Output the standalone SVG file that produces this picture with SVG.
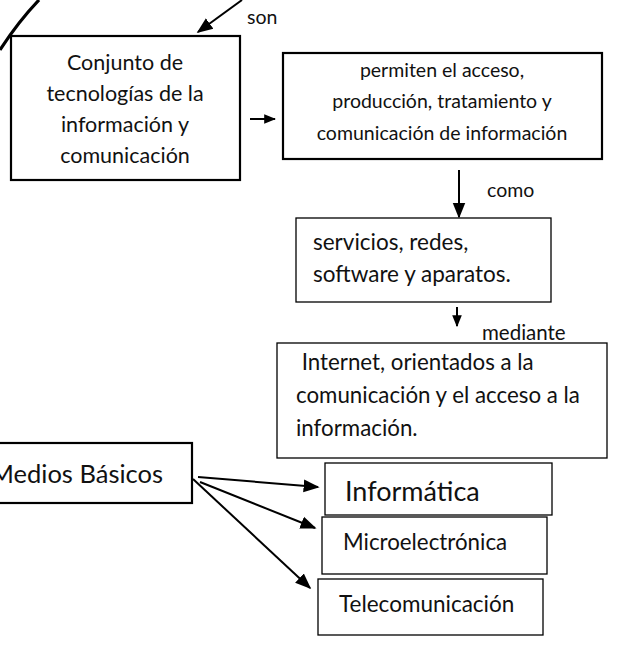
<svg xmlns="http://www.w3.org/2000/svg" width="619" height="646" viewBox="0 0 619 646">
<defs>
<marker id="ah" viewBox="0 0 10 10" refX="9" refY="5" markerWidth="8" markerHeight="8" orient="auto" markerUnits="strokeWidth">
<path d="M0,1 L10,5 L0,9 z" fill="#000"/>
</marker>
<marker id="ahs" viewBox="0 0 10 10" refX="9" refY="5" markerWidth="6" markerHeight="6" orient="auto" markerUnits="strokeWidth">
<path d="M0,1 L10,5 L0,9 z" fill="#000"/>
</marker>
<filter id="sh" x="-20%" y="-50%" width="140%" height="200%">
<feGaussianBlur stdDeviation="4"/>
</filter>
</defs>
<style>
text{font-family:Lato,"Open Sans","Liberation Sans",sans-serif;fill:#111;}
.thick{fill:#fff;stroke:#000;stroke-width:2.2;}
.thin{fill:#fff;stroke:#000;stroke-width:1.3;}
.c{stroke:#000;stroke-width:2;fill:none;}
.mid{text-anchor:middle;}
</style>
<rect width="619" height="646" fill="#fff"/>
<g id="shadow">
<rect x="172" y="-40" width="185" height="40" fill="#999" filter="url(#sh)"/>
<rect x="170" y="-40" width="188" height="39" fill="#fff"/>
</g>
<g id="connectors">
<path d="M0,50 Q18,22 39,0" stroke="#000" stroke-width="3.2" fill="none"/>
<line x1="242" y1="0" x2="198" y2="32" class="c" marker-end="url(#ah)"/>
<line x1="250" y1="119" x2="275" y2="119" class="c" marker-end="url(#ahs)"/>
<line x1="459" y1="170" x2="459" y2="217" class="c" marker-end="url(#ah)"/>
<line x1="457" y1="307" x2="457" y2="326" class="c" marker-end="url(#ahs)"/>
<line x1="198" y1="477" x2="318" y2="487" class="c" marker-end="url(#ah)"/>
<line x1="200" y1="482" x2="315" y2="528" class="c" marker-end="url(#ah)"/>
<line x1="193" y1="479" x2="310" y2="588" class="c" marker-end="url(#ah)"/>
<text x="247" y="24" font-size="19.5">son</text>
<text x="487" y="197" font-size="19.5">como</text>
<text x="482" y="340" font-size="20.5">mediante</text>
</g>
<g id="conjunto">
<rect x="11" y="36" width="229" height="144" class="thick"/>
<text class="mid" x="125" y="70" font-size="21.5">Conjunto de</text>
<text class="mid" x="125" y="101" font-size="21.5">tecnologías de la</text>
<text class="mid" x="125" y="132" font-size="21.5">información y</text>
<text class="mid" x="125" y="163" font-size="21.5">comunicación</text>
</g>
<g id="permiten">
<rect x="283" y="53" width="319" height="106" class="thick"/>
<text class="mid" x="442" y="77" font-size="19.5">permiten el acceso,</text>
<text class="mid" x="442" y="108" font-size="19.5">producción, tratamiento y</text>
<text class="mid" x="442" y="140" font-size="19.5">comunicación de información</text>
</g>
<g id="servicios">
<rect x="296" y="218" width="255" height="84" class="thin"/>
<text x="313" y="250" font-size="22.5">servicios, redes,</text>
<text x="313" y="282" font-size="22.5">software y aparatos.</text>
</g>
<g id="internet">
<rect x="277" y="343" width="330" height="115" class="thin"/>
<text x="296" y="370" font-size="22.3" xml:space="preserve"> Internet, orientados a la</text>
<text x="296" y="403" font-size="22.3">comunicación y el acceso a la</text>
<text x="296" y="436" font-size="22.3">información.</text>
</g>
<g id="medios">
<rect x="-10" y="443" width="202" height="60" class="thick"/>
<text x="163" y="483" font-size="25.5" text-anchor="end">Medios Básicos</text>
</g>
<g id="informatica">
<rect x="325" y="463" width="227" height="52" class="thin"/>
<text x="345" y="501" font-size="27">Informática</text>
</g>
<g id="microelectronica">
<rect x="322" y="517" width="225" height="57" class="thin"/>
<text x="343" y="550" font-size="22.3">Microelectrónica</text>
</g>
<g id="telecomunicacion">
<rect x="318" y="579" width="225" height="56" class="thin"/>
<text x="339" y="612" font-size="22.5">Telecomunicación</text>
</g>
</svg>
